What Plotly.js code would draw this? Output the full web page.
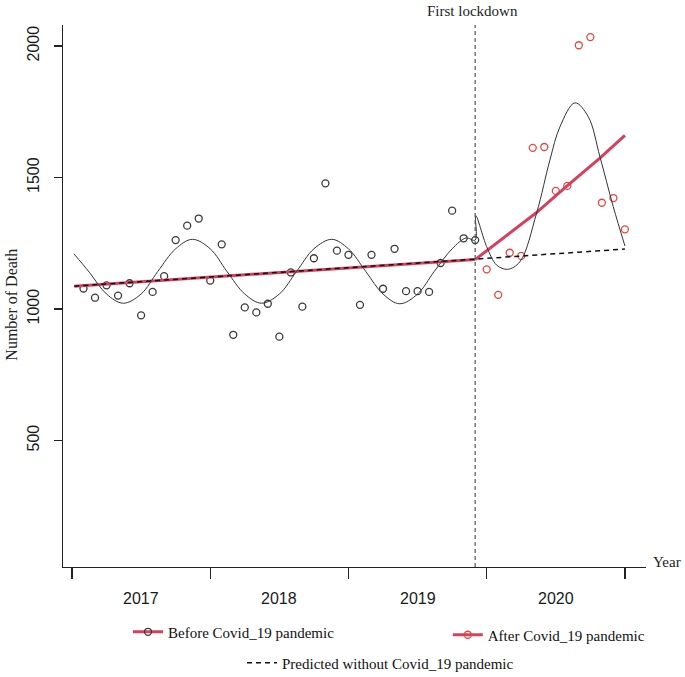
<!DOCTYPE html>
<html>
<head>
<meta charset="utf-8">
<script src="https://cdn.plot.ly/plotly-3.0.1.min.js"></script>
<style>
  body { margin: 0; background: #fff; }
  #death-chart { width: 685px; height: 677px; }
</style>
</head>
<body>
<div id="death-chart"></div>
<script>
'use strict';

const ID = 'death-chart';

// Monthly deaths before the first lockdown (month index 1..35)
const beforeMonth = [1, 2, 3, 4, 5, 6, 7, 8, 9, 10, 11, 12, 13, 14, 15, 16, 17, 18,
  19, 20, 21, 22, 23, 24, 25, 26, 27, 28, 29, 30, 31, 32, 33, 34, 35];
const beforeDeaths = [1078, 1043, 1090, 1051, 1098, 976, 1065, 1125, 1262, 1317, 1344, 1108,
  1246, 902, 1006, 987, 1020, 895, 1139, 1009, 1193, 1478, 1222, 1206,
  1016, 1206, 1077, 1229, 1068, 1068, 1065, 1175, 1374, 1269, 1262];

// Monthly deaths after the first lockdown
const afterMonth = [36, 37, 38, 39, 40, 41, 42, 43, 44, 45, 46, 47, 48];
const afterDeaths = [1151, 1054, 1214, 1202, 1613, 1616, 1449, 1468, 2003, 2034, 1404, 1422, 1303];

// Fitted trends
const preTrendMonth = [0.2, 35];
const preTrendDeaths = [1087, 1188];
const postTrendMonth = [35, 38, 40.3, 42.9, 45.8, 48];
const postTrendDeaths = [1188, 1288, 1366, 1465, 1573, 1660];
const predictedMonth = [0.2, 35, 48];
const predictedDeaths = [1087, 1188, 1228];

// Seasonal fit
const curveMonth = [0.17, 1.5, 3, 4.45, 6, 7.45, 9, 10.45, 12, 13.45, 15, 16.45, 18, 19.5,
  21, 22.55, 24, 25.5, 27, 28.45, 30, 31.45, 33, 34.2, 35,
  35.05, 36, 36.87, 37.82, 38.89, 40.34, 41.49, 42.36, 43.66, 44.82, 45.83, 46.99, 48];
const curveDeaths = [1210, 1140, 1057, 1022, 1057, 1143, 1229, 1265, 1229, 1143, 1057, 1022, 1057, 1143,
  1229, 1265, 1229, 1143, 1057, 1020, 1057, 1143, 1229, 1270, 1262,
  1355, 1237, 1167, 1151, 1180, 1366, 1567, 1693, 1784, 1731, 1579, 1389, 1240];

// Axis labels
const yearTicks = [0, 12, 24, 36, 48];
const yearLabelPos = [6, 18, 30, 42];
const yearLabels = ['2017', '2018', '2019', '2020'];
const deathTicks = [500, 1000, 1500, 2000];
const lockdownMonth = 35;

const RED_LINE = '#d6405e';
const RED_POINT = '#e5463f';
const SERIF = 'Liberation Serif, Times New Roman, serif';
const SANS = 'Liberation Sans, Arial, sans-serif';

const data = [];

data.push({
  x: beforeMonth,
  y: beforeDeaths,
  type: 'scatter',
  mode: 'markers',
  marker: { symbol: 'circle-open', size: 7, color: '#3a3a3a', line: { width: 1.3 } },
  showlegend: false
});
data.push({
  x: afterMonth,
  y: afterDeaths,
  type: 'scatter',
  mode: 'markers',
  marker: { symbol: 'circle-open', size: 7, color: RED_POINT, line: { width: 1.3 } },
  showlegend: false
});
data.push({
  x: preTrendMonth,
  y: preTrendDeaths,
  type: 'scatter',
  mode: 'lines',
  line: { color: RED_LINE, width: 3 },
  showlegend: false
});
data.push({
  x: postTrendMonth,
  y: postTrendDeaths,
  type: 'scatter',
  mode: 'lines',
  line: { color: RED_LINE, width: 3 },
  showlegend: false
});
data.push({
  x: predictedMonth,
  y: predictedDeaths,
  type: 'scatter',
  mode: 'lines',
  name: 'Predicted without Covid_19 pandemic',
  line: { color: '#111', width: 1.5, dash: '5px,4px' },
  legend: 'legend3'
});
data.push({
  x: curveMonth,
  y: curveDeaths,
  type: 'scatter',
  mode: 'lines',
  line: { color: '#333', width: 1, shape: 'spline', smoothing: 1 },
  showlegend: false
});

// legend entries (line + circle)
data.push({
  x: [null],
  y: [null],
  type: 'scatter',
  mode: 'lines+markers',
  name: 'Before Covid_19 pandemic',
  line: { color: RED_LINE, width: 3 },
  marker: { symbol: 'circle-open', size: 7, color: '#3a3a3a', line: { width: 1.3 } },
  legend: 'legend'
});
data.push({
  x: [null],
  y: [null],
  type: 'scatter',
  mode: 'lines+markers',
  name: 'After Covid_19 pandemic',
  line: { color: RED_LINE, width: 3 },
  marker: { symbol: 'circle-open', size: 7, color: RED_POINT, line: { width: 1.3 } },
  legend: 'legend2'
});

const legendBase = {
  orientation: 'v',
  xanchor: 'left',
  yanchor: 'middle',
  bgcolor: 'rgba(0,0,0,0)',
  borderwidth: 0,
  itemwidth: 30,
  font: { family: SERIF, size: 15, color: '#111' }
};

const annotations = yearLabels.map((label, i) => ({
  x: yearLabelPos[i],
  y: 0,
  xref: 'x',
  yref: 'paper',
  yshift: -31,
  xanchor: 'center',
  yanchor: 'middle',
  text: label,
  showarrow: false,
  font: { family: SANS, size: 16, color: '#1a1a1a' }
}));

annotations.push({
  x: lockdownMonth - 0.25,
  y: 1.026,
  xref: 'x',
  yref: 'paper',
  xanchor: 'center',
  yanchor: 'middle',
  text: 'First lockdown',
  showarrow: false,
  font: { family: SERIF, size: 15, color: '#222' }
});
annotations.push({
  x: 1,
  y: 0.009,
  xref: 'paper',
  yref: 'paper',
  xshift: 5,
  xanchor: 'left',
  yanchor: 'middle',
  text: 'Year',
  showarrow: false,
  font: { family: SERIF, size: 15, color: '#222' }
});
annotations.push({
  x: -0.0875,
  y: 0.484,
  xref: 'paper',
  yref: 'paper',
  xanchor: 'center',
  yanchor: 'middle',
  textangle: -90,
  text: 'Number of Death',
  showarrow: false,
  font: { family: SERIF, size: 16, color: '#222' }
});

const layout = {
  width: 685,
  height: 677,
  margin: { l: 63, r: 39, t: 25, b: 110, autoexpand: false },
  paper_bgcolor: '#fff',
  plot_bgcolor: '#fff',
  hovermode: false,
  xaxis: {
    range: [-0.78, 49.83],
    showgrid: false,
    zeroline: false,
    showline: true,
    linecolor: '#222',
    linewidth: 1.2,
    tickmode: 'array',
    tickvals: yearTicks,
    ticktext: yearTicks.map(() => ''),
    ticks: 'outside',
    ticklen: 11,
    tickwidth: 1.2,
    tickcolor: '#222'
  },
  yaxis: {
    range: [19, 2080],
    showgrid: false,
    zeroline: false,
    showline: true,
    linecolor: '#222',
    linewidth: 1.2,
    tickmode: 'array',
    tickvals: deathTicks,
    ticks: 'outside',
    ticklen: 8,
    tickwidth: 1.2,
    tickcolor: '#222',
    tickangle: -90,
    ticklabelstandoff: 8,
    tickfont: { family: SANS, size: 16, color: '#1a1a1a' }
  },
  shapes: [{
    type: 'line',
    xref: 'x',
    yref: 'paper',
    x0: lockdownMonth,
    x1: lockdownMonth,
    y0: 0,
    y1: 1,
    line: { color: '#555', width: 1.2, dash: '4px,3px' }
  }],
  annotations: annotations,
  legend: Object.assign({}, legendBase, { x: 0.1115, y: -0.12 }),
  legend2: Object.assign({}, legendBase, { x: 0.66, y: -0.1255 }),
  legend3: Object.assign({}, legendBase, { x: 0.307, y: -0.177 })
};

Plotly.newPlot(ID, data, layout, { displayModeBar: false, staticPlot: true });
</script>
</body>
</html>
